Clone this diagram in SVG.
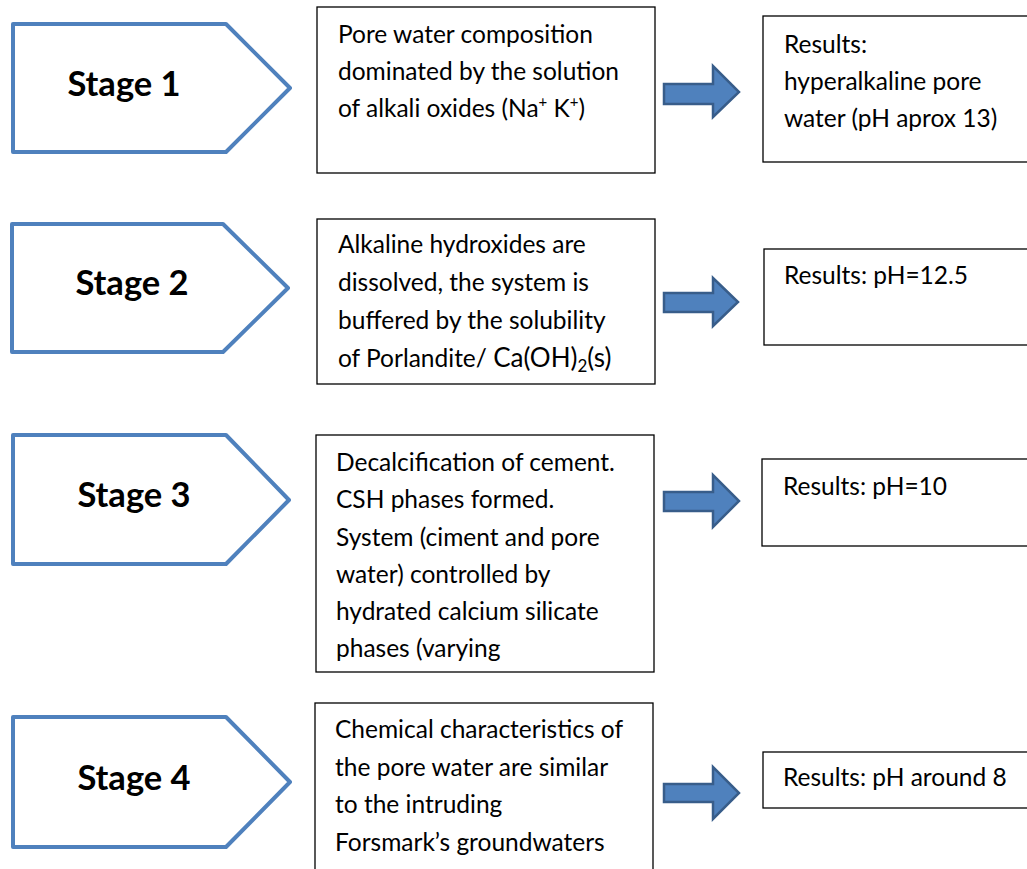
<svg xmlns="http://www.w3.org/2000/svg" width="1027" height="869" viewBox="0 0 1027 869">
<style>
.stage{fill:#fff;stroke:#4F81BD;stroke-width:4;stroke-linejoin:round}
.slabel{font-family:Lato,"Liberation Sans",sans-serif;font-weight:bold;font-size:34.5px;fill:#000;text-anchor:middle}
.box{fill:#fff;stroke:#000;stroke-width:1.3}
.t{font-family:Lato,"Liberation Sans",sans-serif;font-size:24.5px;fill:#000}
.arr{fill:#4F81BD;stroke:#385D8A;stroke-width:2.5;stroke-linejoin:miter}
</style>
<rect width="1027" height="869" fill="#fff"/>
<g id="stage1"><polygon class="stage" points="13,24 226,24 290,88 226,152 13,152"/><text class="slabel" x="124" y="96">Stage 1</text></g>
<g id="stage2"><polygon class="stage" points="12,224 223,224 288,288 223,352 12,352"/><text class="slabel" x="132" y="295">Stage 2</text></g>
<g id="stage3"><polygon class="stage" points="13,435 226,435 289,500 226,564 13,564"/><text class="slabel" x="134" y="507">Stage 3</text></g>
<g id="stage4"><polygon class="stage" points="13,717 226,717 290,782 226,847 13,847"/><text class="slabel" x="134" y="790">Stage 4</text></g>

<g id="box1"><rect class="box" x="317" y="7" width="338" height="166"/>
<text class="t" x="338" y="43">Pore water composition</text>
<text class="t" x="338" y="80">dominated by the solution</text>
<text class="t" x="338" y="117">of alkali oxides (Na<tspan font-size="15" dy="-10">+</tspan><tspan dy="10"> K</tspan><tspan font-size="15" dy="-10">+</tspan><tspan dy="10">)</tspan></text></g>
<g id="box2"><rect class="box" x="317" y="219" width="338" height="165"/>
<text class="t" x="338" y="253">Alkaline hydroxides are</text>
<text class="t" x="338" y="291">dissolved, the system is</text>
<text class="t" x="338" y="329">buffered by the solubility</text>
<text class="t" x="338" y="367">of Porlandite/ <tspan font-size="26">Ca(OH)</tspan><tspan font-size="17" dy="5">2</tspan><tspan font-size="26" dy="-5">(s)</tspan></text></g>
<g id="box3"><rect class="box" x="316" y="435" width="338" height="237"/>
<text class="t" x="336" y="471">Decalcification of cement.</text>
<text class="t" x="336" y="508">CSH phases formed.</text>
<text class="t" x="336" y="546">System (ciment and pore</text>
<text class="t" x="336" y="583">water) controlled by</text>
<text class="t" x="336" y="620">hydrated calcium silicate</text>
<text class="t" x="336" y="657">phases (varying</text></g>
<g id="box4"><rect class="box" x="315" y="703" width="338" height="200"/>
<text class="t" x="335" y="738">Chemical characteristics of</text>
<text class="t" x="335" y="776">the pore water are similar</text>
<text class="t" x="335" y="813">to the intruding</text>
<text class="t" x="335" y="851">Forsmark’s groundwaters</text></g>

<g id="result1"><rect class="box" x="763" y="16" width="300" height="146"/>
<text class="t" x="784" y="53">Results:</text>
<text class="t" x="784" y="90">hyperalkaline pore</text>
<text class="t" x="784" y="127">water (pH aprox 13)</text></g>
<g id="result2"><rect class="box" x="764" y="249" width="300" height="96"/>
<text class="t" x="784" y="284">Results: pH=12.5</text></g>
<g id="result3"><rect class="box" x="762" y="459" width="300" height="87"/>
<text class="t" x="783" y="495">Results: pH=10</text></g>
<g id="result4"><rect class="box" x="763" y="752" width="300" height="56"/>
<text class="t" x="783" y="786">Results: pH around 8</text></g>

<g id="connectors">
<polygon class="arr" points="664,84 713,84 713,66 739,92 713,117 713,104 664,104"/>
<polygon class="arr" points="664,293 713,293 713,278 738,302 713,326 713,312 664,312"/>
<polygon class="arr" points="664,492 713,492 713,475 739,501 713,527 713,511 664,511"/>
<polygon class="arr" points="664,784 713,784 713,767 739,793 713,819 713,802 664,802"/>
</g>
</svg>
